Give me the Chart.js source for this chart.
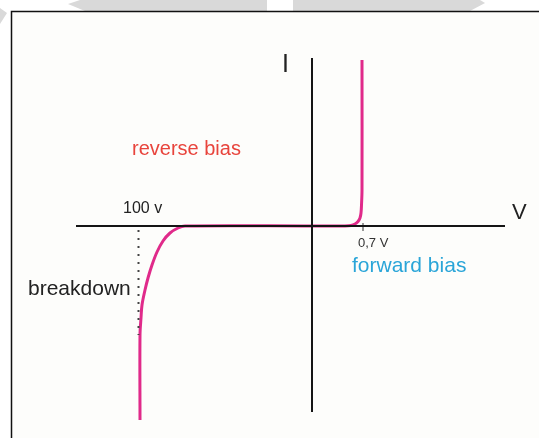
<!DOCTYPE html>
<html>
<head>
<meta charset="utf-8">
<script src="https://cdn.jsdelivr.net/npm/chart.js@4"></script>
<style>
  html, body { margin: 0; padding: 0; background: #ffffff; }
  #wrap { position: relative; width: 539px; height: 438px; }
  canvas { display: block; }
</style>
</head>
<body>
<div id="wrap"><canvas id="c" width="539" height="438"></canvas></div>
<script>
// Schematic diode I–V characteristic (arbitrary schematic units, origin at V=0, I=0)
const forwardV = [0, 3.3, 3.9, 4.3, 4.6, 4.8, 4.9, 4.95, 5.0, 5.0];
const forwardI = [0, 0, 0.05, 0.2, 0.45, 0.8, 1.3, 2.1, 3.6, 16.6];
const reverseV = [0, -12.7, -13.4, -14.2, -14.9, -15.5, -16.0, -16.4, -16.7, -17.0, -17.1, -17.2, -17.2];
const reverseI = [0, 0, -0.2, -0.7, -1.5, -2.6, -3.9, -5.2, -6.4, -7.9, -9.2, -10.9, -19.4];

// axes extents
const vAxisRange = [-23.6, 19.3];
const iAxisRange = [-18.6, 16.8];
// reference marks
const kneeV = 5.1;          // "0,7 V"
const breakdownV = -17.35;  // "100 v"
const breakdownDotI = [-0.4, -10.9];
const tickI = [0.3, -0.5];

// text labels: [text, v, i, font size, color, weight]
const labels = [
  ['I', -3.0, 15.4, 25, '#222222', 'normal'],
  ['V', 20.0, 0.7, 22, '#222222', 'normal'],
  ['reverse bias', -18.0, 7.1, 20, '#e8443c', 'normal'],
  ['forward bias', 4.0, -4.6, 21, '#2aa5d8', 'normal'],
  ['breakdown', -28.4, -6.9, 21, '#222222', 'normal'],
  ['100 v', -18.9, 1.3, 16, '#222222', 'normal'],
  ['0,7 V', 4.6, -2.1, 13, '#333333', 'normal']
];

const pts = (xs, ys) => xs.map((x, i) => ({x: x, y: ys[i]}));

const decor = {
  id: 'decor',
  beforeDraw(chart) {
    const ctx = chart.ctx;
    ctx.save();
    ctx.fillStyle = '#ffffff';
    ctx.fillRect(0, 0, chart.width, chart.height);
    // faint watermark shapes in the top strip
    ctx.fillStyle = '#d9d9d9';
    ctx.beginPath();
    ctx.moveTo(68, 4); ctx.lineTo(80, 0); ctx.lineTo(267, 0); ctx.lineTo(267, 11); ctx.lineTo(85, 11); ctx.closePath(); ctx.fill();
    ctx.beginPath();
    ctx.moveTo(293, 0); ctx.lineTo(480, 0); ctx.lineTo(485, 3); ctx.lineTo(470, 11); ctx.lineTo(293, 11); ctx.closePath(); ctx.fill();
    ctx.beginPath();
    ctx.moveTo(0, 8); ctx.lineTo(7, 13); ctx.lineTo(0, 24); ctx.closePath(); ctx.fill();
    // inner panel
    ctx.fillStyle = '#fdfdfb';
    ctx.fillRect(12, 12, chart.width - 12, chart.height - 12);
    ctx.strokeStyle = '#111111';
    ctx.lineWidth = 1.5;
    ctx.beginPath();
    ctx.moveTo(11.5, chart.height); ctx.lineTo(11.5, 11.5); ctx.lineTo(chart.width, 11.5);
    ctx.stroke();
    ctx.restore();
  },
  afterDatasetsDraw(chart) {
    const ctx = chart.ctx;
    const xs = chart.scales.x, ys = chart.scales.y;
    ctx.save();
    ctx.textBaseline = 'alphabetic';
    ctx.textAlign = 'left';
    labels.forEach(l => {
      ctx.font = l[5] + ' ' + l[3] + 'px "Liberation Sans", Arial, sans-serif';
      ctx.fillStyle = l[4];
      ctx.fillText(l[0], xs.getPixelForValue(l[1]), ys.getPixelForValue(l[2]));
    });
    ctx.restore();
  }
};

new Chart(document.getElementById('c'), {
  type: 'scatter',
  data: {
    datasets: [
      { data: [{x: vAxisRange[0], y: 0}, {x: vAxisRange[1], y: 0}], showLine: true, borderColor: '#151515', borderWidth: 2, pointRadius: 0 },
      { data: [{x: 0, y: iAxisRange[0]}, {x: 0, y: iAxisRange[1]}], showLine: true, borderColor: '#151515', borderWidth: 2, pointRadius: 0 },
      { data: [{x: kneeV, y: tickI[0]}, {x: kneeV, y: tickI[1]}], showLine: true, borderColor: '#777777', borderWidth: 1.5, pointRadius: 0 },
      { data: [{x: breakdownV, y: breakdownDotI[0]}, {x: breakdownV, y: breakdownDotI[1]}], showLine: true, borderColor: '#444444', borderWidth: 2, borderDash: [2, 6], pointRadius: 0 },
      { data: pts(forwardV, forwardI), showLine: true, borderColor: '#e02a8a', borderWidth: 3, pointRadius: 0, tension: 0.35, borderCapStyle: 'butt' },
      { data: pts(reverseV, reverseI), showLine: true, borderColor: '#e02a8a', borderWidth: 3, pointRadius: 0, tension: 0.35, borderCapStyle: 'butt' }
    ]
  },
  options: {
    responsive: false,
    animation: false,
    layout: { padding: 0 },
    plugins: { legend: { display: false }, tooltip: { enabled: false } },
    scales: {
      x: { type: 'linear', min: -31.2, max: 22.7, display: false },
      y: { type: 'linear', min: -21.2, max: 22.6, display: false }
    }
  },
  plugins: [decor]
});
</script>
</body>
</html>
